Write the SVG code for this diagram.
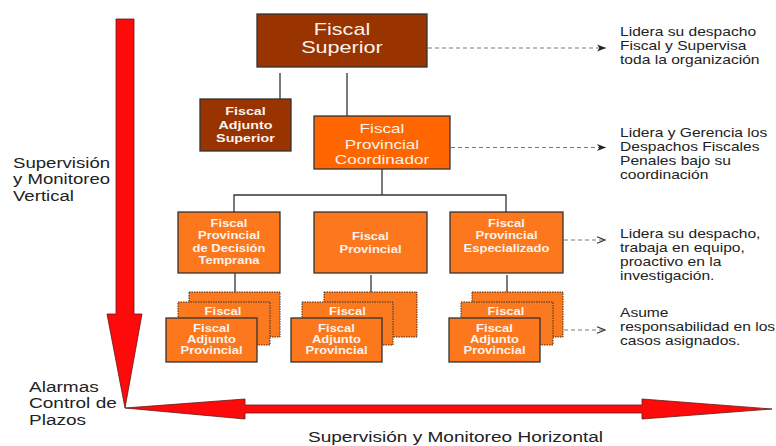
<svg xmlns="http://www.w3.org/2000/svg" width="776" height="446" viewBox="0 0 776 446">
<style>
text{font-family:"Liberation Sans",Arial,Helvetica,sans-serif}
.dk{fill:#222}
.wc{fill:#fbf3ee;text-anchor:middle}
.wb{fill:#fbf3ee;text-anchor:middle;font-weight:bold}
.brown{fill:#993300;stroke:#333;stroke-width:1.3}
.org{fill:#ff6600;stroke:#333;stroke-width:1.3}
.org2{fill:#fd771c;stroke:#333;stroke-width:1.3}
.card{fill:#fb7a20;stroke:#333;stroke-width:1;stroke-dasharray:1.5 1}
.ln{stroke:#333;stroke-width:1.3;fill:none}
.dash{stroke:#7a7a7a;stroke-width:1.2;fill:none;stroke-dasharray:4 3}
.red{fill:#ff0a0a;stroke:#5a1a1a;stroke-width:0.8}
</style>
<defs>
<marker id="mf" markerWidth="10" markerHeight="8" refX="9" refY="4" orient="auto" markerUnits="userSpaceOnUse">
<path d="M0,0.5 L9,4 L0,7.5 L2.5,4 Z" fill="#222"/>
</marker>
<marker id="mo" markerWidth="10" markerHeight="8" refX="9" refY="4" orient="auto" markerUnits="userSpaceOnUse">
<path d="M1,0.8 L9,4 L1,7.2" fill="none" stroke="#333" stroke-width="1.2"/>
</marker>
</defs>
<rect width="776" height="446" fill="#ffffff"/>

<g id="axes">
<polygon class="red" points="116,19 134,19 134,314 142,314 125,408 107,314 116,314"/>
<polygon class="red" points="125,408 245,399 245,405 642,405 642,399 772,409 642,419 642,413 245,413 245,419"/>
</g>

<g id="connectors">
<line class="ln" x1="280" y1="73" x2="280" y2="99"/>
<line class="ln" x1="347" y1="73" x2="347" y2="116"/>
<polyline class="ln" points="382,169 382,195"/>
<polyline class="ln" points="234,212 234,195 506,195 506,212"/>
<line class="ln" x1="235" y1="273" x2="235" y2="292"/>
<line class="ln" x1="371" y1="275" x2="371" y2="292"/>
<line class="ln" x1="507" y1="275" x2="507" y2="292"/>
<line class="dash" x1="428" y1="48" x2="606" y2="48" marker-end="url(#mf)"/>
<line class="dash" x1="451" y1="147.5" x2="606" y2="147.5" marker-end="url(#mf)"/>
<line class="dash" x1="564" y1="240" x2="605" y2="240" marker-end="url(#mo)"/>
<line class="dash" x1="564" y1="330" x2="605" y2="330" marker-end="url(#mo)"/>
</g>

<g id="n-fiscal-superior">
<rect class="brown" x="257" y="14" width="170" height="53"/>
<g transform="translate(342 0) scale(1.27 1)"><text class="wc" font-size="17"><tspan x="0" y="35">Fiscal</tspan><tspan x="0" y="53">Superior</tspan></text></g>
</g>

<g id="n-adjunto-superior">
<rect class="brown" x="200" y="99" width="91" height="52"/>
<g transform="translate(245.5 0) scale(1.3 1)"><text class="wb" font-size="11"><tspan x="0" y="115">Fiscal</tspan><tspan x="0" y="129">Adjunto</tspan><tspan x="0" y="142.5">Superior</tspan></text></g>
</g>

<g id="n-coordinador">
<rect class="org" x="314" y="116" width="136" height="53"/>
<g transform="translate(382 0) scale(1.32 1)"><text class="wc" font-size="13"><tspan x="0" y="133">Fiscal</tspan><tspan x="0" y="149">Provincial</tspan><tspan x="0" y="164.5">Coordinador</tspan></text></g>
</g>

<g id="n-decision-temprana">
<rect class="org2" x="178" y="212" width="102" height="61"/>
<g transform="translate(229 0) scale(1.3 1)"><text class="wb" font-size="10"><tspan x="0" y="227">Fiscal</tspan><tspan x="0" y="239.5">Provincial</tspan><tspan x="0" y="252">de Decisión</tspan><tspan x="0" y="264.5">Temprana</tspan></text></g>
</g>

<g id="n-provincial">
<rect class="org2" x="314" y="212" width="113" height="61"/>
<g transform="translate(370.5 0) scale(1.3 1)"><text class="wb" font-size="10"><tspan x="0" y="240.5">Fiscal</tspan><tspan x="0" y="253">Provincial</tspan></text></g>
</g>

<g id="n-especializado">
<rect class="org2" x="450" y="212" width="113" height="61"/>
<g transform="translate(506.5 0) scale(1.3 1)"><text class="wb" font-size="10"><tspan x="0" y="227">Fiscal</tspan><tspan x="0" y="239.5">Provincial</tspan><tspan x="0" y="252">Especializado</tspan></text></g>
</g>

<g id="n-adjunto-a">
<rect class="card" x="189" y="292" width="91" height="45"/>
<rect class="card" x="178" y="302" width="92" height="43"/>
<g transform="translate(223 0) scale(1.3 1)"><text class="wb" font-size="10"><tspan x="0" y="315">Fiscal</tspan></text></g>
<rect class="org2" x="166" y="318" width="91" height="44"/>
<g transform="translate(211.5 0) scale(1.3 1)"><text class="wb" font-size="10"><tspan x="0" y="332.5">Fiscal</tspan><tspan x="0" y="343.5">Adjunto</tspan><tspan x="0" y="354.5">Provincial</tspan></text></g>
</g>

<g id="n-adjunto-b">
<rect class="card" x="324" y="292" width="93" height="45"/>
<rect class="card" x="302" y="302" width="91" height="43"/>
<g transform="translate(347.5 0) scale(1.3 1)"><text class="wb" font-size="10"><tspan x="0" y="315">Fiscal</tspan></text></g>
<rect class="org2" x="291" y="318" width="91" height="44"/>
<g transform="translate(336.5 0) scale(1.3 1)"><text class="wb" font-size="10"><tspan x="0" y="332.5">Fiscal</tspan><tspan x="0" y="343.5">Adjunto</tspan><tspan x="0" y="354.5">Provincial</tspan></text></g>
</g>

<g id="n-adjunto-c">
<rect class="card" x="472" y="292" width="91" height="45"/>
<rect class="card" x="461" y="302" width="92" height="43"/>
<g transform="translate(506 0) scale(1.3 1)"><text class="wb" font-size="10"><tspan x="0" y="315">Fiscal</tspan></text></g>
<rect class="org2" x="449" y="318" width="91" height="44"/>
<g transform="translate(494.5 0) scale(1.3 1)"><text class="wb" font-size="10"><tspan x="0" y="332.5">Fiscal</tspan><tspan x="0" y="343.5">Adjunto</tspan><tspan x="0" y="354.5">Provincial</tspan></text></g>
</g>

<g id="notes">
<g transform="translate(620 0) scale(1.3 1)"><text class="dk" font-size="12"><tspan x="0" y="36">Lidera su despacho</tspan><tspan x="0" y="50">Fiscal y Supervisa</tspan><tspan x="0" y="64">toda la organización</tspan></text></g>
<g transform="translate(620 0) scale(1.3 1)"><text class="dk" font-size="12"><tspan x="0" y="137">Lidera y Gerencia los</tspan><tspan x="0" y="151">Despachos Fiscales</tspan><tspan x="0" y="165">Penales bajo su</tspan><tspan x="0" y="179">coordinación</tspan></text></g>
<g transform="translate(620 0) scale(1.3 1)"><text class="dk" font-size="12"><tspan x="0" y="238">Lidera su despacho,</tspan><tspan x="0" y="252">trabaja en equipo,</tspan><tspan x="0" y="266">proactivo en la</tspan><tspan x="0" y="280">investigación.</tspan></text></g>
<g transform="translate(620 0) scale(1.3 1)"><text class="dk" font-size="12"><tspan x="0" y="317">Asume</tspan><tspan x="0" y="331">responsabilidad en los</tspan><tspan x="0" y="345">casos asignados.</tspan></text></g>
</g>

<g id="axis-labels">
<g transform="translate(13 0) scale(1.24 1)"><text class="dk" font-size="15"><tspan x="0" y="168">Supervisión</tspan><tspan x="0" y="184.5">y Monitoreo</tspan><tspan x="0" y="201">Vertical</tspan></text></g>
<g transform="translate(29 0) scale(1.27 1)"><text class="dk" font-size="15"><tspan x="0" y="392">Alarmas</tspan><tspan x="0" y="408.5">Control de</tspan><tspan x="0" y="425">Plazos</tspan></text></g>
<g transform="translate(308 0) scale(1.27 1)"><text class="dk" font-size="15"><tspan x="0" y="442">Supervisión y Monitoreo Horizontal</tspan></text></g>
</g>
</svg>
